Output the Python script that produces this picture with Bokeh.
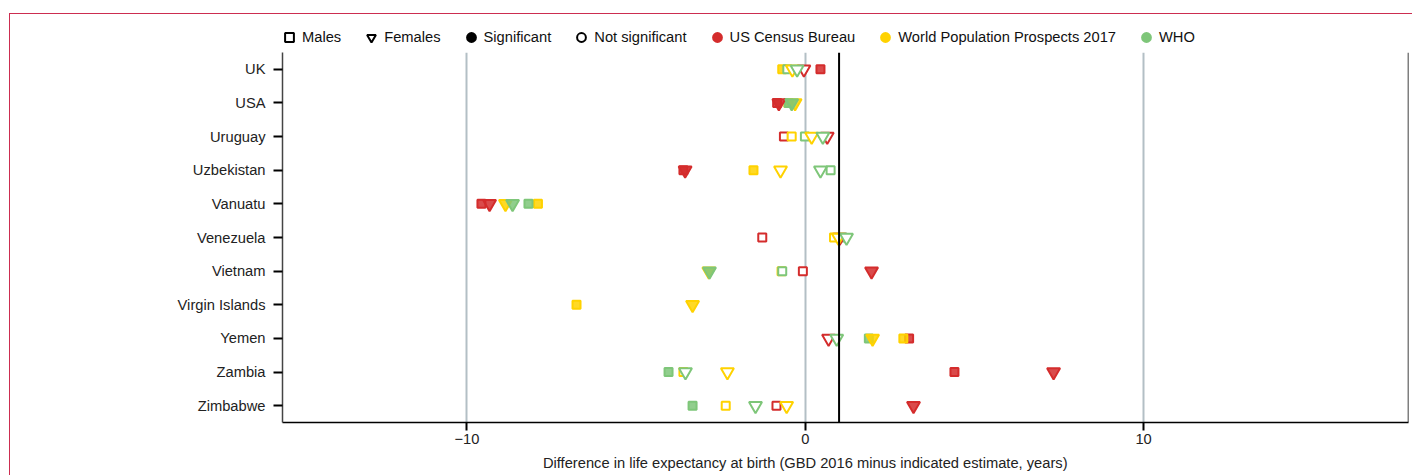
import math
from bokeh.plotting import figure
from bokeh.layouts import column
from bokeh.models import (FactorRange, Range1d, FixedTicker, Span, Legend, LegendItem,
                          ColumnDataSource)
from bokeh.core.properties import value
from bokeh.embed import file_html
from bokeh.resources import INLINE

nan = float("nan")

countries = ["UK", "USA", "Uruguay", "Uzbekistan", "Vanuatu", "Venezuela", "Vietnam",
             "Virgin Islands", "Yemen", "Zambia", "Zimbabwe"]

census_male = [0.45, -0.83, -0.63, -3.60, -9.57, -1.27, -0.07, nan, 3.07, 4.41, -0.85]
census_male_sig = [1, 1, 0, 1, 1, 0, 0, 0, 1, 1, 0]
census_female = [-0.04, -0.78, 0.65, -3.55, -9.33, 1.02, 1.96, nan, 0.69, 7.34, 3.20]
census_female_sig = [0, 1, 0, 1, 1, 1, 1, 0, 0, 1, 1]

wpp_male = [-0.68, -0.50, -0.40, -1.53, -7.90, 0.85, -0.70, -6.76, 2.90, -3.60, -2.35]
wpp_male_sig = [1, 1, 0, 1, 1, 0, 0, 1, 1, 0, 0]
wpp_female = [-0.38, -0.30, 0.19, -0.73, -8.86, 0.98, -2.85, -3.33, 1.99, -2.30, -0.55]
wpp_female_sig = [0, 1, 0, 0, 1, 0, 1, 1, 1, 0, 0]

who_male = [-0.53, -0.49, -0.01, 0.75, -8.18, 1.10, -0.68, nan, 1.88, -4.04, -3.33]
who_male_sig = [0, 1, 0, 0, 1, 0, 0, 0, 1, 1, 1]
who_female = [-0.24, -0.40, 0.52, 0.45, -8.65, 1.22, -2.83, nan, 0.93, -3.54, -1.47]
who_female_sig = [0, 1, 0, 0, 1, 0, 1, 0, 0, 0, 0]

reference_line = 1.0
x_ticks = [-10, 0, 10]
x_label = "Difference in life expectancy at birth (GBD 2016 minus indicated estimate, years)"
legend_labels = ["Males", "Females", "Significant", "Not significant", "US Census Bureau",
                 "World Population Prospects 2017", "WHO"]

RED = "#d42c2c"
YEL = "#ffd200"
GRN = "#7ec679"
FONT = "Liberation Sans"
FS = "14.7px"
X_START, X_END = -15.45, 17.83
W = 1402
FRAME_COLOR = "#cc2d50"

# ---------------- legend strip ----------------
pl = figure(width=W, height=38, x_range=Range1d(0, 1), y_range=Range1d(0, 1),
            x_axis_type=None, y_axis_type=None, output_backend="svg",
            toolbar_location=None, min_border=0)
pl.outline_line_color = None
pl.grid.visible = False


def dummy(marker, fill, line, size=8):
    # single point outside the visible range: only the legend glyph shows
    return pl.scatter(x=[-10], y=[-10], marker=marker, size=size, fill_color=fill,
                      line_color=line, line_width=2)


legend_marks = [("square", "white", "black"), ("inverted_triangle", "white", "black"),
                ("circle", "black", "black"), ("circle", "white", "black"),
                ("circle", RED, RED), ("circle", YEL, YEL), ("circle", GRN, GRN)]
items = [LegendItem(label=lab, renderers=[dummy(*mk)])
         for lab, mk in zip(legend_labels, legend_marks)]
legend = Legend(items=items, orientation="horizontal", location=(-4, 4),
                glyph_width=22, glyph_height=22, label_standoff=2, spacing=19,
                padding=0, margin=0, border_line_color=None, background_fill_alpha=0,
                label_text_font=FONT, label_text_font_size=FS,
                label_text_color="#111111")
pl.add_layout(legend, "center")

# ---------------- main plot ----------------
p = figure(width=W, height=398,
           y_range=FactorRange(factors=countries[::-1], range_padding=0),
           x_range=Range1d(X_START, X_END),
           output_backend="svg", toolbar_location=None,
           min_border_left=272, min_border_right=4, min_border_top=0, min_border_bottom=28)
p.outline_line_color = None

p.ygrid.grid_line_color = None
p.xgrid.ticker = FixedTicker(ticks=x_ticks)
p.xgrid.grid_line_color = "#b3bfc5"
p.xgrid.grid_line_width = 2

xa = p.xaxis[0]
xa.ticker = FixedTicker(ticks=x_ticks)
xa.major_label_overrides = {-10: "\u221210"}
xa.major_label_text_font = FONT
xa.major_label_text_font_size = FS
xa.major_label_text_color = "#222222"
xa.major_label_standoff = 3
xa.major_tick_out = 8
xa.major_tick_in = 0
xa.major_tick_line_width = 2
xa.major_tick_line_color = "black"
xa.minor_tick_line_color = None
xa.axis_line_color = "black"
xa.axis_line_width = 1.5

ya = p.yaxis[0]
ya.major_label_text_font = FONT
ya.major_label_text_font_size = FS
ya.major_label_text_color = "#222222"
ya.major_label_standoff = 8
ya.major_tick_out = 9
ya.major_tick_in = 0
ya.major_tick_line_width = 2
ya.major_tick_line_color = "black"
ya.axis_line_color = "#444444"
ya.axis_line_width = 1.5

p.add_layout(Span(location=reference_line, dimension="height", line_color="black", line_width=2))
p.add_layout(Span(location=X_END, dimension="height", line_color="black", line_width=1.5))


def make_source(vals, sig, color):
    xs, ys, fc, fa = [], [], [], []
    for c, v, s in zip(countries, vals, sig):
        if v is None or (isinstance(v, float) and math.isnan(v)):
            continue
        xs.append(v)
        ys.append(c)
        fc.append(color if s else "white")
        fa.append(0.85 if s else 1.0)
    return ColumnDataSource(dict(x=xs, y=ys, fc=fc, fa=fa))


series = [
    ("square", census_male, census_male_sig, RED),
    ("square", wpp_male, wpp_male_sig, YEL),
    ("square", who_male, who_male_sig, GRN),
    ("inverted_triangle", census_female, census_female_sig, RED),
    ("inverted_triangle", wpp_female, wpp_female_sig, YEL),
    ("inverted_triangle", who_female, who_female_sig, GRN),
]
for marker, vals, sig, col in series:
    src = make_source(vals, sig, col)
    size = 8 if marker == "square" else 13
    p.scatter("x", "y", source=src, marker=marker, size=size, line_color=col,
              line_width=2, fill_color="fc", fill_alpha="fa")

# ---------------- x-axis title strip ----------------
pt = figure(width=W, height=25, x_range=Range1d(X_START, X_END), y_range=Range1d(0, 1),
            x_axis_type=None, y_axis_type=None, output_backend="svg",
            toolbar_location=None, min_border_left=272, min_border_right=4,
            min_border_top=0, min_border_bottom=0)
pt.outline_line_color = None
pt.grid.visible = False
pt.text(x=[0], y=[0.5], text=[x_label], text_align="center", text_baseline="middle",
        text_font=value(FONT), text_font_size=FS, text_color="#222222")

layout = column(pl, p, pt, spacing=0,
                styles={"border-top": f"1px solid {FRAME_COLOR}",
                        "border-left": f"1px solid {FRAME_COLOR}",
                        "margin-top": "13px", "margin-left": "9px"})

open("out.html", "w").write(file_html(layout, INLINE))
